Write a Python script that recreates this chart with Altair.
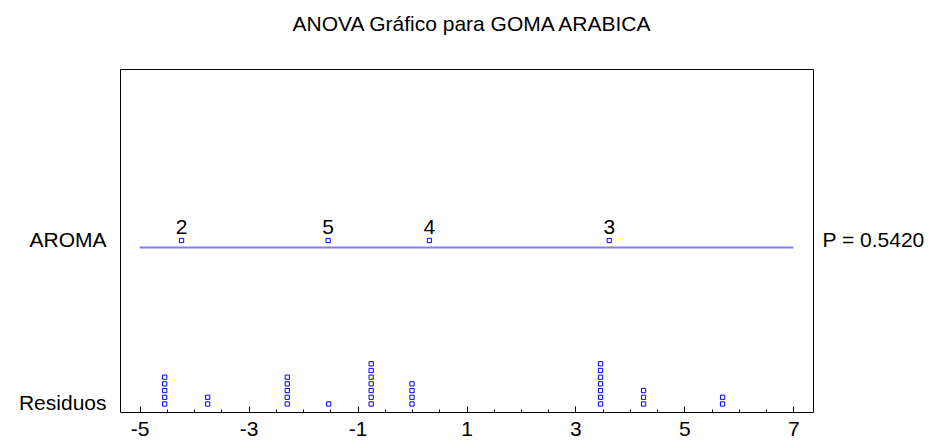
import altair as alt
import pandas as pd

# ---- data ----
title_text = "ANOVA Gráfico para GOMA ARABICA"
factor_label = "AROMA"
resid_label = "Residuos"
p_text = "P = 0.5420"

group_labels = ["2", "5", "4", "3"]
group_means = [-4.23, -1.54, 0.32, 3.62]

resid_values = [-4.54, -3.75, -2.29, -1.53, -0.75, 0.0, 3.46, 4.25, 5.70]
resid_counts = [5, 2, 5, 1, 7, 4, 7, 3, 2]

x_tick_values = [-5, -4.5, -4, -3.5, -3, -2.5, -2, -1.5, -1, -0.5, 0, 0.5, 1,
                 1.5, 2, 2.5, 3, 3.5, 4, 4.5, 5, 5.5, 6, 6.5, 7]
line_x = [-5, 7]

row_resid = 0
row_factor = 24.4
row_line = 23.35

FONT = "Liberation Sans"
FS = 21

# ---- tables ----
resid_rows = []
for v, c in zip(resid_values, resid_counts):
    for k in range(c):
        resid_rows.append({"x": v, "y": row_resid + k})
df_resid = pd.DataFrame(resid_rows)
df_means = pd.DataFrame({"x": group_means, "y": [row_factor] * len(group_means),
                         "label": group_labels})
df_line = pd.DataFrame({"x": line_x, "y": [row_line] * len(line_x)})

x_scale = alt.Scale(domain=[-5.36, 7.36], nice=False, zero=False)
y_scale = alt.Scale(domain=[-1.2, 50], nice=False, zero=False)

major_test = "abs(datum.value % 2) == 1"
x_axis = alt.Axis(
    values=x_tick_values, title=None, domain=False, grid=False,
    labelExpr=f"{major_test} ? (datum.value < 0 ? '-' + abs(datum.value) : '' + datum.value) : ''",
    tickSize={"condition": {"test": major_test, "value": -6}, "value": -3},
    tickColor="black", tickWidth=1,
    labelFontSize=FS, labelFont=FONT, labelColor="black", labelPadding=12,
    labelFlush=False, labelOverlap=False,
)
x_enc = alt.X("x:Q", scale=x_scale, axis=x_axis)

left_axis = alt.Axis(
    orient="left", values=[row_resid, row_factor], title=None,
    labelExpr=f"datum.value == {row_resid} ? '{resid_label}' : '{factor_label}'",
    ticks=False, domain=False, grid=False, labelPadding=14,
    labelFontSize=FS, labelFont=FONT, labelColor="black",
)
right_axis = alt.Axis(
    orient="right", values=[row_factor], title=None,
    labelExpr=f"'{p_text}'",
    ticks=False, domain=False, grid=False, labelPadding=9,
    labelFontSize=FS, labelFont=FONT, labelColor="black", labelAlign="left",
)

line = alt.Chart(df_line).mark_line(color="#7f7fff", strokeWidth=2).encode(
    x=x_enc, y=alt.Y("y:Q", scale=y_scale, axis=right_axis)
)
resid = alt.Chart(df_resid).mark_point(
    shape="square", filled=False, size=18, color="#0000ff", strokeWidth=1, opacity=1
).encode(x=x_enc, y=alt.Y("y:Q", scale=y_scale, axis=left_axis))
means = alt.Chart(df_means).mark_point(
    shape="square", filled=False, size=18, color="#0000ff", strokeWidth=1, opacity=1
).encode(x=x_enc, y=alt.Y("y:Q", scale=y_scale, axis=None))
labels = alt.Chart(df_means).mark_text(
    baseline="alphabetic", dy=-7, fontSize=FS, font=FONT, color="black"
).encode(x=x_enc, y=alt.Y("y:Q", scale=y_scale, axis=None), text="label:N")

chart = alt.layer(line, resid, means, labels).resolve_axis(y="independent").properties(
    width=693, height=343,
    autosize=alt.AutoSizeParams(type="none"),
    padding={"left": 112, "top": 61, "right": 118, "bottom": 31},
    title=alt.Title(title_text, fontSize=FS, font=FONT, fontWeight="normal",
                    color="black", anchor="middle", offset=34, dx=5),
).configure_view(stroke="black", strokeWidth=1)

chart.save("out.html", embed_options={"renderer": "svg", "actions": False})
